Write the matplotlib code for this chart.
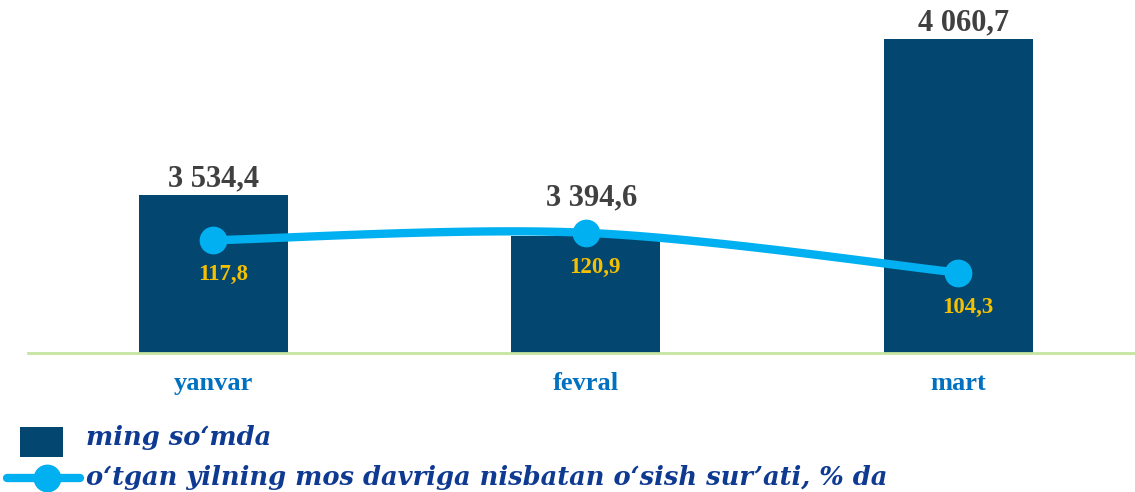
import numpy as np
import matplotlib
matplotlib.use("agg")
import matplotlib.pyplot as plt
from matplotlib.lines import Line2D
from matplotlib.patches import Rectangle

months = ["yanvar", "fevral", "mart"]
amounts = [3534.4, 3394.6, 4060.7]          # ming so'mda
growth = [117.8, 120.9, 104.3]              # % da
amount_labels = ["3 534,4", "3 394,6", "4 060,7"]
growth_labels = ["117,8", "120,9", "104,3"]
legend_labels = ["ming so\u2018mda",
                 "o\u2018tgan yilning mos davriga nisbatan o\u2018sish sur\u2019ati, % da"]

BAR = "#03466f"
LINE = "#00b0f0"
GOLD = "#f5c000"
TXT = "#404040"
TICK = "#0070c0"
LEG = "#0f3a92"

plt.rcParams["font.family"] = ["Liberation Serif", "DejaVu Serif"]


def smooth(xs, ys, n=60):
    # catmull-rom style smoothing like a spreadsheet "smoothed line"
    pts = np.column_stack([xs, ys]).astype(float)
    p = np.vstack([pts[0], pts, pts[-1]])
    out = []
    for i in range(1, len(p) - 2):
        p0, p1, p2, p3 = p[i - 1], p[i], p[i + 1], p[i + 2]
        c1 = p1 + (p2 - p0) / 6
        c2 = p2 - (p3 - p1) / 6
        t = np.linspace(0, 1, n)[:, None]
        out.append((1 - t) ** 3 * p1 + 3 * (1 - t) ** 2 * t * c1
                   + 3 * (1 - t) * t ** 2 * c2 + t ** 3 * p2)
    c = np.vstack(out)
    return c[:, 0], c[:, 1]


W, H = 1135, 492
fig = plt.figure(figsize=(W / 100, H / 100), dpi=100)
ax = fig.add_axes([28 / W, 1 - 353 / H, 1107 / W, 353 / H])
x = np.arange(len(months))
ax.bar(x, amounts, width=0.4, color=BAR, zorder=2)
ax.set_xlim(-0.497, 2.475)
ax.set_ylim(3000, 4191)
for s in ["top", "right", "left"]:
    ax.spines[s].set_visible(False)
ax.spines["bottom"].set_color("#c6e5a0")
ax.spines["bottom"].set_linewidth(2)
ax.set_yticks([])
ax.set_xticks(x, months)
ax.tick_params(axis="x", length=0, pad=14, labelsize=19, labelcolor=TICK)
for t in ax.get_xticklabels():
    t.set_fontweight("bold")

bar_off = [1, 17, 1]
for xi, v, lab, off in zip(x, amounts, amount_labels, bar_off):
    ax.annotate(lab, (xi, v), xytext=(4 if xi else 0, off), textcoords="offset points",
                ha="center", va="bottom", fontsize=22, fontweight="bold", color=TXT)

ax2 = ax.twinx()
ax2.set_ylim(70.8, 217.9)
ax2.axis("off")
sx, sy = smooth(x, growth)
ax2.plot(sx, sy, color=LINE, lw=6, solid_capstyle="round", zorder=3)
ax2.plot(x, growth, "o", color=LINE, ms=19, zorder=4)
for xi, v, lab in zip(x, growth, growth_labels):
    ax2.annotate(lab, (xi, v), xytext=(7, -25), textcoords="offset points",
                 ha="center", va="center", fontsize=16.5, fontweight="bold", color=GOLD)

# legend drawn in figure pixel coordinates
fig.add_artist(Rectangle((20 / W, 1 - 457 / H), 43 / W, 30 / H,
                         transform=fig.transFigure, facecolor=BAR, edgecolor="none"))
fig.add_artist(Line2D([7 / W, 80 / W], [1 - 478 / H] * 2, transform=fig.transFigure,
                      color=LINE, lw=6, solid_capstyle="round"))
fig.add_artist(Line2D([47 / W], [1 - 478 / H], transform=fig.transFigure,
                      color=LINE, marker="o", ms=19))
for yy, lab in zip([438, 478], legend_labels):
    fig.text(86 / W, 1 - yy / H, lab, ha="left", va="center", fontsize=18.5,
             fontweight="bold", fontstyle="italic", color=LEG, family="DejaVu Serif")

fig.savefig("out.png", dpi=100)
